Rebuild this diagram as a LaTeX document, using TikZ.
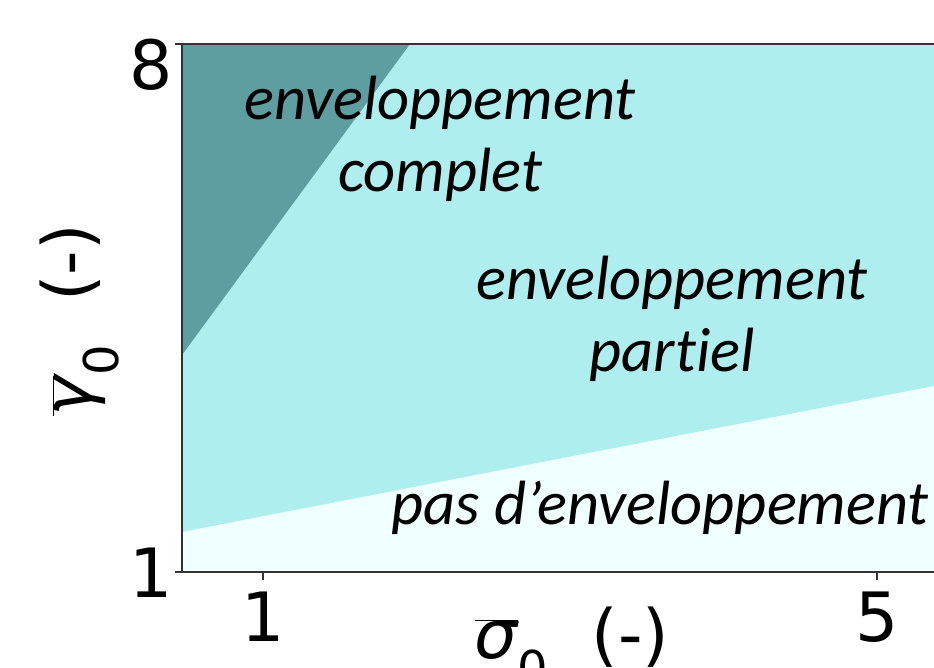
\documentclass[tikz,border=0pt]{standalone}
\usepackage{fontspec}
\newfontfamily\dejavu{DejaVu Sans}
\newfontfamily\carlito[Ligatures={NoCommon}]{Carlito}
\definecolor{cadetblue}{RGB}{95,158,160}
\definecolor{paleturq}{RGB}{175,238,238}
\definecolor{azurefill}{RGB}{240,255,255}
\newcommand{\barsym}[1]{$\overline{\mbox{\itshape #1}}_{\mbox{\fontsize{48}{48}\selectfont 0}}$}
\tikzset{
  region/.style={font=\carlito\itshape\fontsize{62.5}{72}\selectfont, align=center, inner sep=0pt},
  ticklabel/.style={font=\dejavu\fontsize{68}{80}\selectfont, inner sep=0pt},
  axislabel/.style={font=\dejavu\fontsize{68}{80}\selectfont, inner sep=0pt},
  spine/.style={draw=black!80, line width=1.6pt}
}

\begin{document}
\begin{tikzpicture}[x=1pt, y=-1pt]
\useasboundingbox (0,0) rectangle (934,667);

% corners of the plot area
\coordinate (tl) at (182,44);
\coordinate (tr) at (934,44);
\coordinate (bl) at (182,572);
\coordinate (br) at (934,572);

% regions
\fill[paleturq] (tl) rectangle (br);
\fill[cadetblue] (tl) -- (410,44) -- (182,355) -- cycle;
\fill[azurefill] (182,532) -- (934,386) -- (br) -- (bl) -- cycle;

% spines and ticks
\draw[spine] (tr) -- (tl) -- (bl) -- (br);
\foreach \x in {263,877}
  \draw[spine] (\x,572) -- (\x,580);
\foreach \y in {44,572}
  \draw[spine] (182,\y) -- (175,\y);

\node[ticklabel] (x1) at (263,617) {1};
\node[ticklabel] (x5) at (877,617) {5};
\node[ticklabel] (y1) at (151,573) {1};
\node[ticklabel] (y8) at (151,65) {8};

\node[axislabel, anchor=north] (xlab) at (572,607) {\barsym{σ}\ \ (-)};
\node[axislabel, rotate=90] (ylab) at (80,320) {\barsym{γ}\ \ (-)};

% region names
\node[region] (full) at (440,139) {enveloppement\\complet};
\node[region] (part) at (672,319) {enveloppement\\partiel};
\node[region] (none) at (660,508) {pas d’enveloppement};
\end{tikzpicture}
\end{document}
